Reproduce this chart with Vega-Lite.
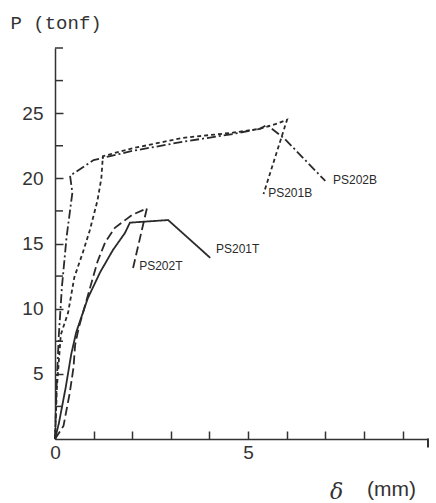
{
  "$schema": "https://vega.github.io/schema/vega-lite/v6.json",
  "width": 373,
  "height": 391,
  "autosize": "none",
  "padding": {"left": 55, "top": 48, "right": 8, "bottom": 64},
  "background": "white",
  "title": {
    "text": "(mm)",
    "orient": "bottom",
    "anchor": "start",
    "frame": "group",
    "font": "Liberation Sans",
    "fontSize": 21,
    "fontWeight": "normal",
    "color": "#333333",
    "dx": 312,
    "dy": -27
  },
  "datasets": {
    "curves": [
      {"s": "PS201T", "i": 0, "x": 0, "y": 0},
      {"s": "PS201T", "i": 1, "x": 0.1, "y": 1.2},
      {"s": "PS201T", "i": 2, "x": 0.28, "y": 4},
      {"s": "PS201T", "i": 3, "x": 0.42, "y": 6.5},
      {"s": "PS201T", "i": 4, "x": 0.55, "y": 8.2},
      {"s": "PS201T", "i": 5, "x": 0.85, "y": 10.8},
      {"s": "PS201T", "i": 6, "x": 1.17, "y": 12.8},
      {"s": "PS201T", "i": 7, "x": 1.5, "y": 14.5},
      {"s": "PS201T", "i": 8, "x": 1.81, "y": 15.8},
      {"s": "PS201T", "i": 9, "x": 1.94, "y": 16.6},
      {"s": "PS201T", "i": 10, "x": 2.93, "y": 16.8},
      {"s": "PS201T", "i": 11, "x": 4.02, "y": 13.9},
      {"s": "PS202T", "i": 0, "x": 0, "y": 0},
      {"s": "PS202T", "i": 1, "x": 0.22, "y": 1},
      {"s": "PS202T", "i": 2, "x": 0.38, "y": 3.5},
      {"s": "PS202T", "i": 3, "x": 0.48, "y": 5.5},
      {"s": "PS202T", "i": 4, "x": 0.52, "y": 7.2},
      {"s": "PS202T", "i": 5, "x": 0.62, "y": 8.6},
      {"s": "PS202T", "i": 6, "x": 0.85, "y": 11},
      {"s": "PS202T", "i": 7, "x": 1.1, "y": 13.6},
      {"s": "PS202T", "i": 8, "x": 1.3, "y": 15.1},
      {"s": "PS202T", "i": 9, "x": 1.55, "y": 16.2},
      {"s": "PS202T", "i": 10, "x": 2.0, "y": 17.2},
      {"s": "PS202T", "i": 11, "x": 2.38, "y": 17.7},
      {"s": "PS202T", "i": 12, "x": 2.02, "y": 13.1},
      {"s": "PS201B", "i": 0, "x": 0, "y": 0},
      {"s": "PS201B", "i": 1, "x": 0.05, "y": 4},
      {"s": "PS201B", "i": 2, "x": 0.15, "y": 8},
      {"s": "PS201B", "i": 3, "x": 0.34, "y": 9.7},
      {"s": "PS201B", "i": 4, "x": 0.5, "y": 12.4},
      {"s": "PS201B", "i": 5, "x": 0.72, "y": 14.3},
      {"s": "PS201B", "i": 6, "x": 0.9, "y": 16},
      {"s": "PS201B", "i": 7, "x": 1.1, "y": 18.3},
      {"s": "PS201B", "i": 8, "x": 1.2, "y": 20},
      {"s": "PS201B", "i": 9, "x": 1.24, "y": 21.7},
      {"s": "PS201B", "i": 10, "x": 2.0, "y": 22.3},
      {"s": "PS201B", "i": 11, "x": 3.3, "y": 23.1},
      {"s": "PS201B", "i": 12, "x": 4.6, "y": 23.5},
      {"s": "PS201B", "i": 13, "x": 5.3, "y": 23.8},
      {"s": "PS201B", "i": 14, "x": 5.75, "y": 24.2},
      {"s": "PS201B", "i": 15, "x": 6.01, "y": 24.5},
      {"s": "PS201B", "i": 16, "x": 5.4, "y": 18.8},
      {"s": "PS202B", "i": 0, "x": 0, "y": 0},
      {"s": "PS202B", "i": 1, "x": 0.04, "y": 4},
      {"s": "PS202B", "i": 2, "x": 0.1, "y": 8},
      {"s": "PS202B", "i": 3, "x": 0.18, "y": 11.7},
      {"s": "PS202B", "i": 4, "x": 0.3, "y": 15.5},
      {"s": "PS202B", "i": 5, "x": 0.45, "y": 18.9},
      {"s": "PS202B", "i": 6, "x": 0.39, "y": 20.2},
      {"s": "PS202B", "i": 7, "x": 1.0, "y": 21.4},
      {"s": "PS202B", "i": 8, "x": 2.0, "y": 22.1},
      {"s": "PS202B", "i": 9, "x": 3.3, "y": 22.8},
      {"s": "PS202B", "i": 10, "x": 4.6, "y": 23.4},
      {"s": "PS202B", "i": 11, "x": 5.3, "y": 23.8},
      {"s": "PS202B", "i": 12, "x": 5.49, "y": 24.1},
      {"s": "PS202B", "i": 13, "x": 5.96, "y": 23.0},
      {"s": "PS202B", "i": 14, "x": 7.0, "y": 19.8}
    ],
    "labels": [
      {"s": "PS201T", "x": 4.17, "y": 14.6},
      {"s": "PS202T", "x": 2.18, "y": 13.3},
      {"s": "PS201B", "x": 5.52, "y": 18.9},
      {"s": "PS202B", "x": 7.2, "y": 19.9}
    ],
    "minorY": [
      {"v": 2.5}, {"v": 7.5}, {"v": 12.5}, {"v": 17.5}, {"v": 22.5}, {"v": 27.5}, {"v": 30}
    ],
    "endX": [
      {"v": 9.66}
    ]
  },
  "layer": [
    {
      "data": {"name": "curves"},
      "mark": {"type": "line", "color": "#2a2a2a", "strokeWidth": 1.8, "clip": false},
      "encoding": {
        "x": {
          "field": "x",
          "type": "quantitative",
          "scale": {"domain": [0, 9.66], "nice": false, "zero": false},
          "axis": {
            "values": [0, 1, 2, 3, 4, 5, 6, 7, 8, 9],
            "labelExpr": "datum.value == 0 ? '0' : (datum.value == 5 ? '5' : '')",
            "title": "δ",
            "titleFont": "DejaVu Serif",
            "titleFontStyle": "italic",
            "titleFontWeight": "normal",
            "titleFontSize": 22,
            "titleColor": "#333333",
            "titleAlign": "center",
            "titleBaseline": "alphabetic",
            "titleX": 281,
            "titleY": 59,
            "tickSize": -8,
            "labelPadding": 12,
            "labelFlush": false,
            "labelBound": false,
            "labelOverlap": false
          }
        },
        "y": {
          "field": "y",
          "type": "quantitative",
          "scale": {"domain": [0, 30], "nice": false},
          "axis": {
            "values": [5, 10, 15, 20, 25],
            "title": "P (tonf)",
            "titleFont": "Liberation Mono",
            "titleFontWeight": "normal",
            "titleFontSize": 19,
            "titleColor": "#333333",
            "titleAngle": 0,
            "titleAlign": "left",
            "titleBaseline": "alphabetic",
            "titleX": -45,
            "titleY": -20,
            "tickSize": -8,
            "labelPadding": 20,
            "labelFlush": false,
            "labelBound": false,
            "labelOverlap": false
          }
        },
        "strokeDash": {
          "field": "s",
          "type": "nominal",
          "scale": {
            "domain": ["PS201T", "PS202T", "PS201B", "PS202B"],
            "range": [[1, 0], [9, 4], [4, 3], [9, 3, 2, 3]]
          },
          "legend": null
        },
        "detail": {"field": "s"},
        "order": {"field": "i", "type": "quantitative"}
      }
    },
    {
      "data": {"name": "minorY"},
      "mark": {"type": "tick", "orient": "horizontal", "size": 8, "thickness": 1.5, "xOffset": 4, "color": "#333333", "opacity": 1},
      "encoding": {
        "x": {"datum": 0, "type": "quantitative"},
        "y": {"field": "v", "type": "quantitative"}
      }
    },
    {
      "data": {"name": "endX"},
      "mark": {"type": "tick", "orient": "vertical", "size": 9, "thickness": 2, "yOffset": 4, "color": "#333333", "opacity": 1},
      "encoding": {
        "x": {"field": "v", "type": "quantitative"},
        "y": {"datum": 0, "type": "quantitative"}
      }
    },
    {
      "data": {"name": "labels"},
      "mark": {
        "type": "text",
        "align": "left",
        "baseline": "middle",
        "font": "Liberation Sans",
        "fontSize": 12,
        "color": "#2a2a2a"
      },
      "encoding": {
        "x": {"field": "x", "type": "quantitative"},
        "y": {"field": "y", "type": "quantitative"},
        "text": {"field": "s"}
      }
    }
  ],
  "config": {
    "view": {"stroke": null},
    "axis": {
      "grid": false,
      "domainColor": "#333333",
      "domainWidth": 1.5,
      "tickColor": "#333333",
      "tickWidth": 1.5,
      "labelFont": "Liberation Sans",
      "labelFontSize": 19,
      "labelColor": "#333333"
    }
  }
}
